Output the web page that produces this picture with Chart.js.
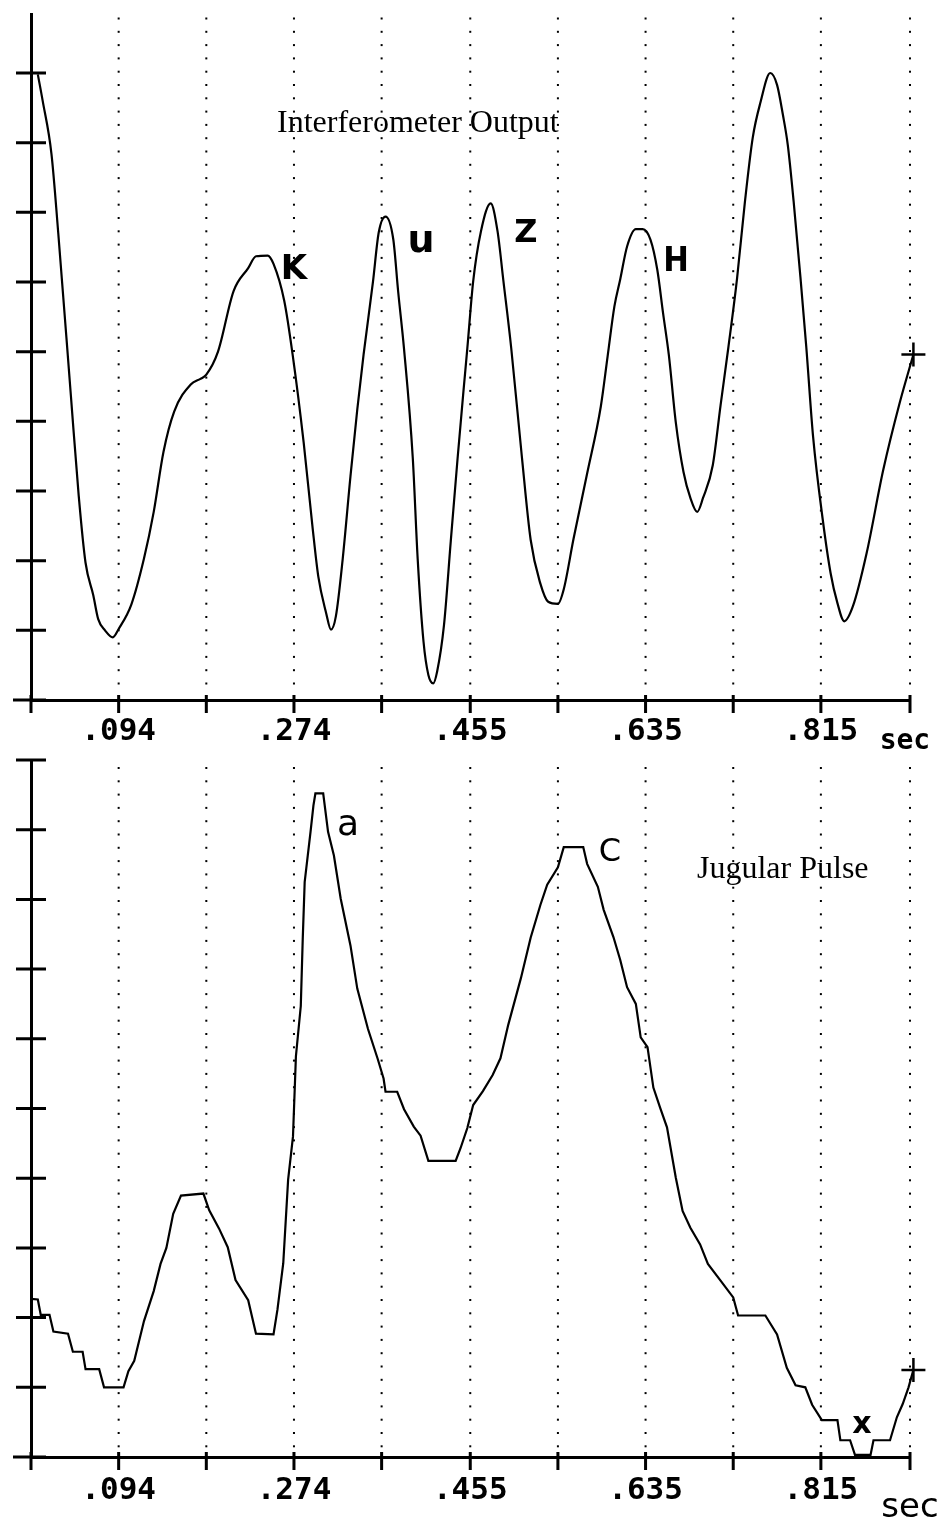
<!DOCTYPE html>
<html>
<head>
<meta charset="utf-8">
<title>Interferometer Output / Jugular Pulse</title>
<script src="https://cdn.jsdelivr.net/npm/chart.js@4.4.1/dist/chart.umd.min.js"></script>
<style>
  html, body { margin: 0; padding: 0; background: #fff; }
  body { width: 942px; height: 1524px; position: relative; overflow: hidden; }
  canvas { position: absolute; left: 0; }
  #topChart { top: 0; }
  #bottomChart { top: 745px; }
</style>
</head>
<body>
<canvas id="topChart" width="942" height="760"></canvas>
<canvas id="bottomChart" width="942" height="779"></canvas>
<script>
// x axis: seconds, one division every ~0.090 s
const tickValues = [0.004, 0.094, 0.184, 0.274, 0.364, 0.455, 0.545, 0.635, 0.725, 0.815, 0.9065];
const tickLabels = ['', '.094', '', '.274', '', '.455', '', '.635', '', '.815', ''];

// upper trace: interferometer output (arbitrary units, one unit per y tick)
const timeTop = [
  0.011, 0.016, 0.025, 0.032, 0.045, 0.053, 0.060, 0.068,
  0.073, 0.080, 0.088, 0.094, 0.107, 0.120, 0.130, 0.140, 0.151, 0.168,
  0.178, 0.184, 0.196, 0.212, 0.227, 0.235, 0.247, 0.253, 0.264, 0.2727,
  0.284, 0.293, 0.299, 0.307, 0.312, 0.317, 0.324, 0.332, 0.339,
  0.3455, 0.355, 0.361, 0.368, 0.376, 0.381, 0.387, 0.396, 0.401,
  0.407, 0.412, 0.417, 0.421, 0.428, 0.435, 0.442, 0.448, 0.452, 0.458,
  0.466, 0.476, 0.483, 0.489, 0.497, 0.508, 0.517, 0.527, 0.535, 0.545,
  0.551, 0.561, 0.575, 0.589, 0.596, 0.603, 0.609, 0.616, 0.625, 0.632,
  0.640, 0.647, 0.653, 0.659, 0.666, 0.674, 0.681, 0.688, 0.694, 0.704,
  0.712, 0.720, 0.729, 0.737, 0.745, 0.753, 0.763, 0.770, 0.776, 0.781,
  0.787, 0.794, 0.800, 0.807, 0.817, 0.825, 0.832, 0.839, 0.848, 0.862,
  0.879, 0.896, 0.910
];
const interferometer = [
  8.98, 8.60, 7.84, 6.70, 4.36, 2.93, 1.97, 1.50,
  1.16, 1.00, 0.90, 1.02, 1.37, 2.03, 2.70, 3.56, 4.14, 4.53,
  4.61, 4.67, 5.00, 5.87, 6.20, 6.37, 6.38, 6.26, 5.73, 4.95,
  3.69, 2.49, 1.77, 1.25, 1.01, 1.20, 2.02, 3.21, 4.17,
  4.96, 5.99, 6.71, 6.94, 6.61, 5.86, 5.04, 3.47, 2.03,
  0.84, 0.36, 0.24, 0.41, 1.07, 2.28, 3.47, 4.43, 5.05, 6.01,
  6.73, 7.13, 6.73, 6.02, 5.06, 3.49, 2.30, 1.67, 1.41, 1.38,
  1.59, 2.31, 3.25, 4.21, 4.93, 5.65, 6.04, 6.51, 6.76, 6.76,
  6.61, 6.18, 5.55, 4.94, 3.99, 3.27, 2.90, 2.70, 2.90, 3.37,
  4.23, 5.06, 6.06, 7.15, 8.07, 8.58, 9.00, 8.83, 8.40, 7.97,
  7.16, 6.07, 5.07, 3.78, 2.58, 1.82, 1.39, 1.13, 1.35, 2.11,
  3.30, 4.27, 4.96
];

// lower trace: jugular pulse (stepped, quantised)
const timeBottom = [
  0.004, 0.011, 0.014, 0.023, 0.027, 0.042, 0.047, 0.057, 0.060, 0.074,
  0.079, 0.099, 0.104, 0.110, 0.120, 0.130, 0.137, 0.143, 0.150, 0.158,
  0.181, 0.187, 0.197, 0.206, 0.214, 0.227, 0.235, 0.253, 0.257, 0.263,
  0.268, 0.273, 0.276, 0.281, 0.283, 0.285, 0.291, 0.294, 0.296, 0.304,
  0.309, 0.315, 0.322, 0.332, 0.339, 0.350, 0.360, 0.366, 0.368, 0.380,
  0.387, 0.397, 0.404, 0.412, 0.440, 0.445, 0.452, 0.458, 0.468, 0.478,
  0.486, 0.494, 0.507, 0.517, 0.527, 0.534, 0.545, 0.551, 0.571, 0.575,
  0.586, 0.592, 0.602, 0.609, 0.616, 0.625, 0.630, 0.637, 0.643, 0.650,
  0.657, 0.666, 0.673, 0.681, 0.691, 0.699, 0.712, 0.725, 0.730, 0.758,
  0.770, 0.780, 0.789, 0.799, 0.806, 0.816, 0.832, 0.835, 0.845, 0.850,
  0.866, 0.869, 0.886, 0.893, 0.899, 0.905, 0.910
];
const jugular = [
  2.27, 2.26, 2.04, 2.04, 1.80, 1.77, 1.51, 1.51, 1.26, 1.26,
  1.00, 1.00, 1.23, 1.38, 1.95, 2.38, 2.77, 3.00, 3.49, 3.75,
  3.78, 3.54, 3.28, 3.01, 2.54, 2.25, 1.77, 1.76, 2.11, 2.78,
  3.98, 4.60, 5.75, 6.47, 7.43, 8.25, 8.97, 9.35, 9.52, 9.52,
  8.97, 8.63, 8.01, 7.34, 6.72, 6.14, 5.71, 5.43, 5.24, 5.24,
  4.99, 4.74, 4.61, 4.25, 4.25, 4.43, 4.72, 5.05, 5.25, 5.48,
  5.72, 6.20, 6.87, 7.45, 7.92, 8.21, 8.46, 8.75, 8.75, 8.51,
  8.18, 7.85, 7.46, 7.13, 6.74, 6.50, 6.02, 5.88, 5.30, 5.01,
  4.73, 4.01, 3.53, 3.29, 3.05, 2.77, 2.53, 2.29, 2.03, 2.03,
  1.76, 1.28, 1.03, 1.00, 0.75, 0.53, 0.53, 0.24, 0.24, 0.03,
  0.03, 0.24, 0.24, 0.57, 0.76, 1.00, 1.25
];

const labelFont = { family: 'DejaVu Sans Mono', size: 31, weight: 'bold' };

// dotted verticals, crossing tick marks and the free text of each panel
function makeDecor(cfg) {
  return {
    id: 'decor',
    beforeDatasetsDraw(chart) {
      const { ctx, chartArea: area, scales: { x } } = chart;
      ctx.save();
      ctx.fillStyle = '#000';
      tickValues.forEach((v, i) => {
        if (i === 0) return;
        const px = x.getPixelForValue(v);
        for (let py = area.top + cfg.dotStart; py < area.bottom - 5; py += 13.3) {
          ctx.fillRect(px - 1, py - 1, 2, 2);
        }
      });
      ctx.restore();
    },
    afterDraw(chart) {
      const { ctx, chartArea: area, scales: { x, y } } = chart;
      ctx.save();
      ctx.strokeStyle = '#000';
      ctx.fillStyle = '#000';
      ctx.lineWidth = 3;
      ctx.beginPath();
      tickValues.forEach(v => {
        const px = x.getPixelForValue(v);
        ctx.moveTo(px, area.bottom - 5);
        ctx.lineTo(px, area.bottom + 13);
      });
      cfg.yTicks.forEach(v => {
        const py = y.getPixelForValue(v);
        ctx.moveTo(area.left - 15, py);
        ctx.lineTo(area.left + 15, py);
      });
      // x axis runs a little left of the y axis
      ctx.moveTo(area.left - 18, area.bottom);
      ctx.lineTo(area.left, area.bottom);
      ctx.stroke();

      cfg.texts.forEach(n => {
        ctx.font = n.font;
        ctx.textAlign = n.align || 'center';
        ctx.textBaseline = 'alphabetic';
        ctx.fillText(n.text, x.getPixelForValue(n.t), y.getPixelForValue(n.v));
      });
      ctx.restore();
    }
  };
}

function buildChart(id, times, values, cfg) {
  const points = times.map((t, i) => ({ x: t, y: values[i] }));
  const last = points.length - 1;
  return new Chart(document.getElementById(id), {
    type: 'line',
    data: {
      datasets: [{
        data: points,
        borderColor: '#000',
        borderWidth: 2.2,
        fill: false,
        tension: cfg.tension,
        cubicInterpolationMode: cfg.mode,
        clip: false,
        pointStyle: 'cross',
        pointRadius: c => (c.dataIndex === last ? 12 : 0),
        pointHoverRadius: 0,
        pointBorderWidth: 2.5,
        pointBorderColor: '#000'
      }]
    },
    options: {
      responsive: false,
      animation: false,
      devicePixelRatio: 1,
      events: [],
      layout: { padding: { left: 0, right: 32, top: cfg.padTop, bottom: 0 } },
      plugins: { legend: { display: false }, tooltip: { enabled: false } },
      scales: {
        x: {
          type: 'linear',
          min: tickValues[0],
          max: tickValues[tickValues.length - 1],
          afterBuildTicks: s => { s.ticks = tickValues.map(v => ({ value: v })); },
          afterFit: s => { s.height = cfg.xHeight; },
          grid: { display: false, drawTicks: false },
          border: { display: true, color: '#000', width: 3 },
          ticks: {
            autoSkip: false,
            maxRotation: 0,
            padding: cfg.labelPad,
            color: '#000',
            font: labelFont,
            callback: (v, i) => tickLabels[i]
          }
        },
        y: {
          min: 0,
          max: cfg.yMax,
          afterFit: s => { s.width = 31; },
          grid: { display: false, drawTicks: false },
          border: { display: true, color: '#000', width: 3 },
          ticks: { display: false }
        }
      }
    },
    plugins: [makeDecor(cfg)]
  });
}

buildChart('topChart', timeTop, interferometer, {
  tension: 0.4, mode: 'monotone',
  padTop: 10, xHeight: 60, labelPad: 13, yMax: 9.84, dotStart: 4,
  yTicks: [0, 1, 2, 3, 4, 5, 6, 7, 8, 9],
  texts: [
    { text: 'Interferometer Output', t: 0.2566, v: 8.15, align: 'left', font: '32px "Liberation Serif"' },
    { text: 'K', t: 0.274, v: 6.05, font: 'bold 34px "DejaVu Sans"' },
    { text: 'u', t: 0.4044, v: 6.43, font: 'bold 38px "DejaVu Sans"' },
    { text: 'Z', t: 0.5122, v: 6.58, font: 'bold 32px "DejaVu Sans"' },
    { text: 'H', t: 0.6662, v: 6.16, font: 'bold 34px "DejaVu Sans Condensed"' },
    { text: 'sec', t: 0.9013, v: -0.71, font: 'bold 28px "DejaVu Sans Mono"' }
  ]
});

buildChart('bottomChart', timeBottom, jugular, {
  tension: 0, mode: 'default',
  padTop: 15, xHeight: 67, labelPad: 15, yMax: 10, dotStart: 8,
  yTicks: [0, 1, 2, 3, 4, 5, 6, 7, 8, 9, 10],
  texts: [
    { text: 'Jugular Pulse', t: 0.6878, v: 8.31, align: 'left', font: '32px "Liberation Serif"' },
    { text: 'a', t: 0.3295, v: 8.92, font: '36px "DejaVu Sans"' },
    { text: 'C', t: 0.5985, v: 8.55, font: '32px "DejaVu Sans"' },
    { text: 'x', t: 0.8572, v: 0.34, font: 'bold 30px "DejaVu Sans"' },
    { text: 'sec', t: 0.9065, v: -0.86, font: '34px "DejaVu Sans"' }
  ]
});
</script>
</body>
</html>
